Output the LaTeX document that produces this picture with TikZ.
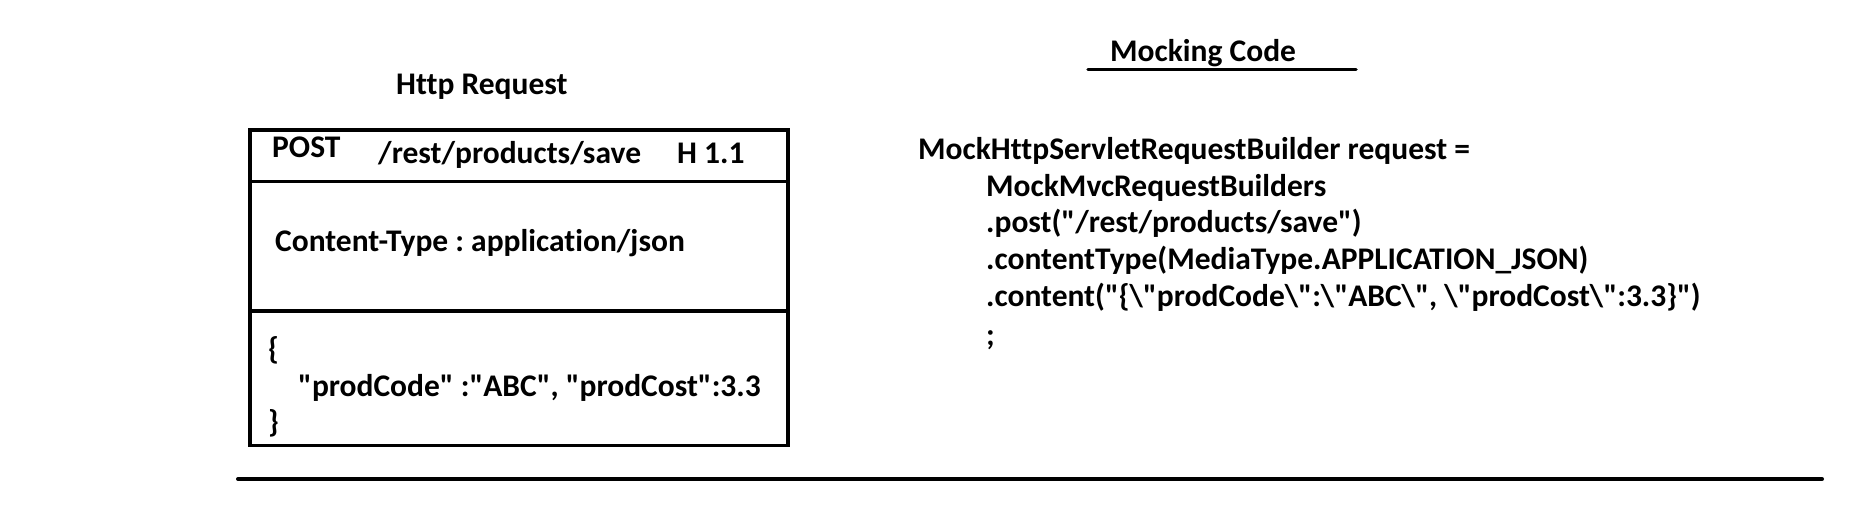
\documentclass[tikz,border=0pt]{standalone}
\usepackage{fontspec}
\setmainfont{Carlito}[Ligatures={TeXOff,CommonOff}]
\frenchspacing
\begin{document}
\begin{tikzpicture}[x=1pt,y=-1pt,
  txt/.style={inner sep=0pt,anchor=base west,font=\fontsize{31.5}{37}\selectfont\bfseries\frenchspacing},
  frame/.style={line width=3.5pt},
  rule/.style={line width=4pt,line cap=round}]
\useasboundingbox (0,0) rectangle (1865,505);
% Http request box
\coordinate (tl) at (250,130);
\coordinate (br) at (788,445.5);
\draw[frame] (tl) rectangle (br);
\coordinate (l1a) at (250,181.5);
\coordinate (l1b) at (788,181.5);
\coordinate (l2a) at (250,310.5);
\coordinate (l2b) at (788,310.5);
\draw[line width=2.5pt] (l1a) -- (l1b);
\draw[line width=4pt] (l2a) -- (l2b);
\node[txt] (title) at (396,95) {Http Request};
\node[txt] (post) at (272,158) {POST};
\node[txt] (path) at (378,164) {/rest/products/save};
\node[txt] (ver) at (677,164) {H 1.1};
\node[txt] (ctype) at (275,251) {Content-Type : application/json};
\node[txt] (ob) at (268,359) {\{};
\node[txt] (body) at (298,396) {"prodCode" :"ABC", "prodCost":3.3};
\node[txt] (cb) at (268,432) {\}};
% Mocking code
\node[txt] (mtitle) at (1110,62) {Mocking Code};
\coordinate (ua) at (1088,69.5);
\coordinate (ub) at (1356,69.5);
\draw[line width=3.5pt,line cap=round] (ua) -- (ub);
\node[txt] (c1) at (918,160) {MockHttpServletRequestBuilder request =};
\node[txt] (c2) at (986,196.5) {MockMvcRequestBuilders};
\node[txt] (c3) at (986,233) {.post("/rest/products/save")};
\node[txt] (c4) at (986,269.5) {.contentType(MediaType.APPLICATION\_JSON)};
\node[txt] (c5) at (986,306) {.content("\{\textbackslash"prodCode\textbackslash":\textbackslash"ABC\textbackslash", \textbackslash"prodCost\textbackslash":3.3\}")};
\node[txt] (c6) at (986,345) {;};
% bottom rule
\coordinate (ba) at (238,479);
\coordinate (bb) at (1822,479);
\draw[rule] (ba) -- (bb);
\end{tikzpicture}
\end{document}
